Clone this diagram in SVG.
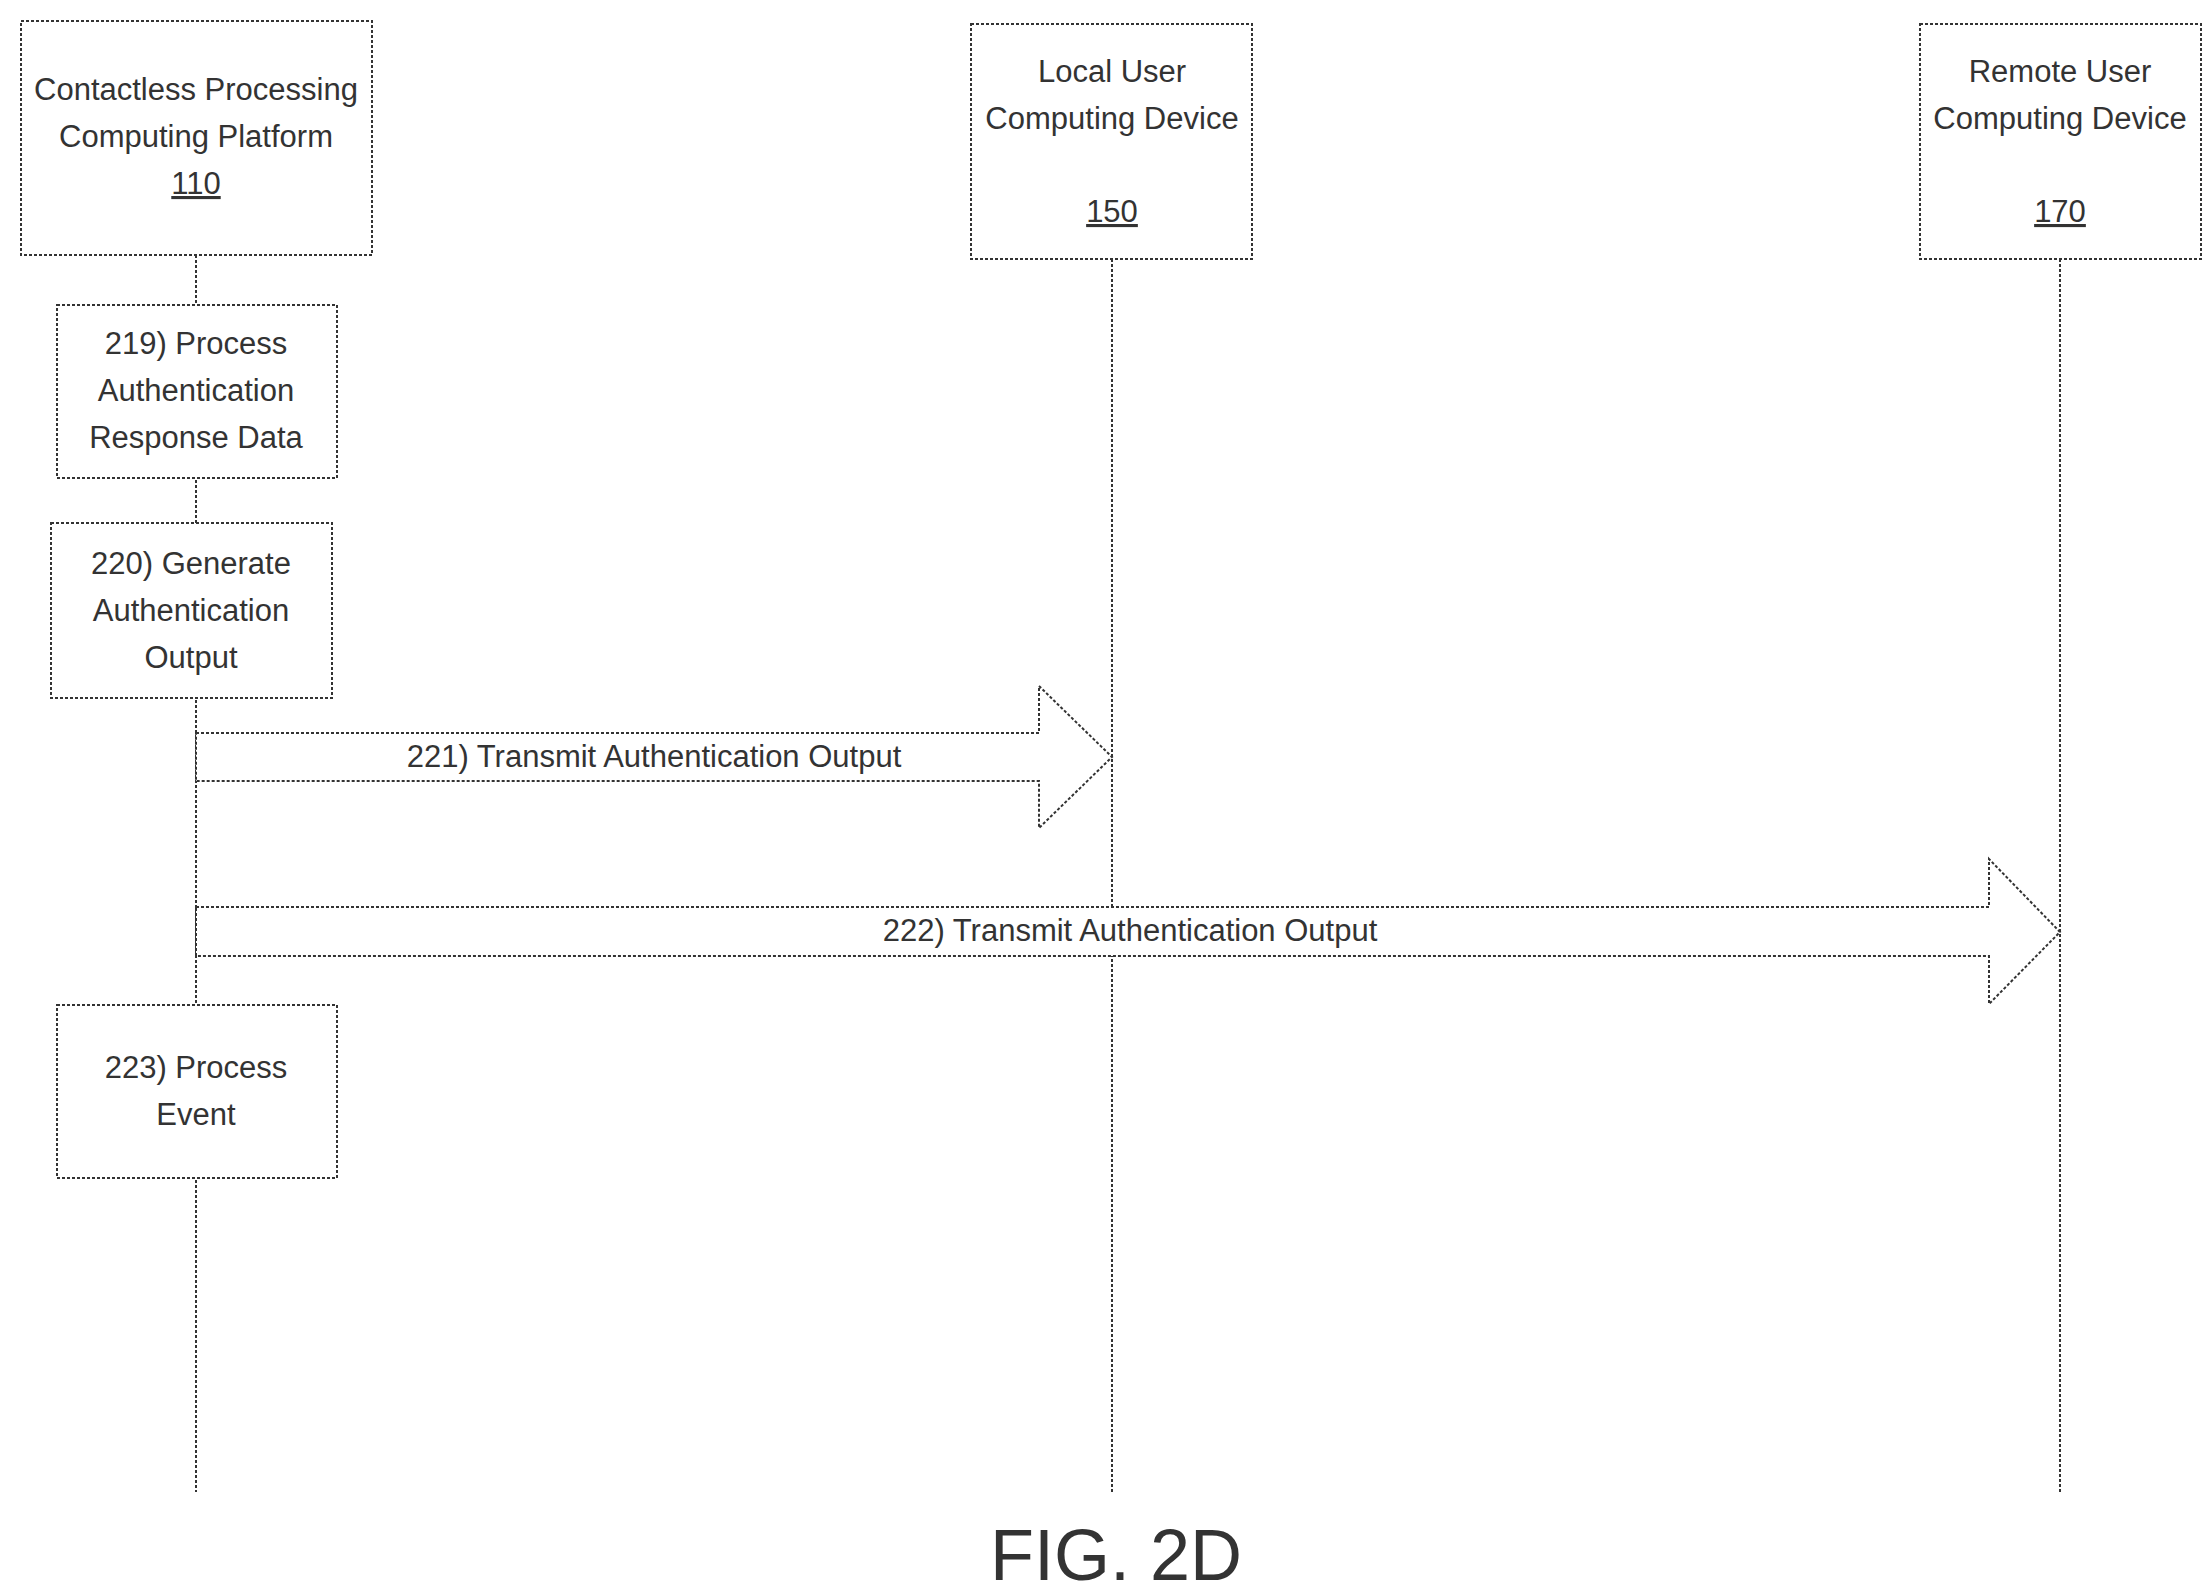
<svg xmlns="http://www.w3.org/2000/svg" width="2212" height="1596" viewBox="0 0 2212 1596">
<style>
.b{fill:#fff;stroke:#333;stroke-width:2;stroke-dasharray:3,2}
.l{stroke:#333;stroke-width:2;stroke-dasharray:3,2;fill:none}
text{font-family:"Liberation Sans",Arial,sans-serif;font-size:31px;fill:#333;text-anchor:middle}
</style>
<rect width="2212" height="1596" fill="#fff"/>
<g id="connectors">
<line class="l" x1="196" y1="255" x2="196" y2="1492"/>
<line class="l" x1="1112" y1="259" x2="1112" y2="1492"/>
<line class="l" x1="2060" y1="259" x2="2060" y2="1492"/>
<g id="a221"><polygon class="b" points="196,733 1039,733 1039,686 1112,757 1039,828 1039,781 196,781"/><text x="654" y="767">221) Transmit Authentication Output</text></g>
<g id="a222"><polygon class="b" points="196,907 1989,907 1989,859 2060,932 1989,1004 1989,956 196,956"/><text x="1130" y="941">222) Transmit Authentication Output</text></g>
</g>
<g id="n110"><rect class="b" x="21" y="21" width="351" height="234"/><text x="196" y="100">Contactless Processing</text><text x="196" y="147">Computing Platform</text><text x="196" y="194" text-decoration="underline">110</text></g>
<g id="n150"><rect class="b" x="971" y="24" width="281" height="235"/><text x="1112" y="82">Local User</text><text x="1112" y="129">Computing Device</text><text x="1112" y="222" text-decoration="underline">150</text></g>
<g id="n170"><rect class="b" x="1920" y="24" width="281" height="235"/><text x="2060" y="82">Remote User</text><text x="2060" y="129">Computing Device</text><text x="2060" y="222" text-decoration="underline">170</text></g>
<g id="n219"><rect class="b" x="57" y="305" width="280" height="173"/><text x="196" y="354">219) Process</text><text x="196" y="401">Authentication</text><text x="196" y="448">Response Data</text></g>
<g id="n220"><rect class="b" x="51" y="523" width="281" height="175"/><text x="191" y="574">220) Generate</text><text x="191" y="621">Authentication</text><text x="191" y="668">Output</text></g>
<g id="n223"><rect class="b" x="57" y="1005" width="280" height="173"/><text x="196" y="1078">223) Process</text><text x="196" y="1125">Event</text></g>
<text x="1116" y="1580" style="font-size:72px">FIG. 2D</text>
</svg>
